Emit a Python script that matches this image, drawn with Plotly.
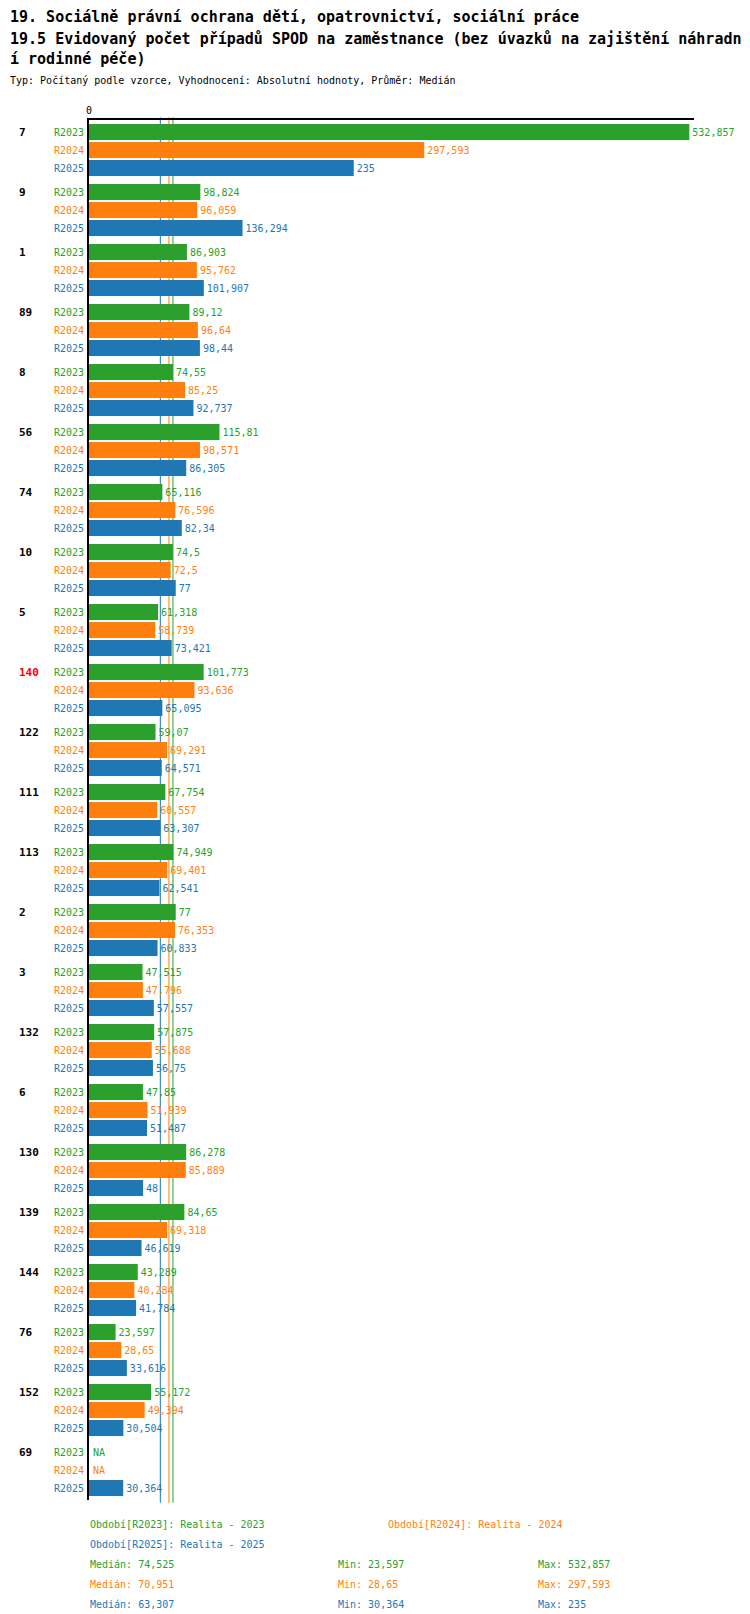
from decimal import Decimal, ROUND_HALF_UP
import numpy as np
import plotly.graph_objects as go

# data (Czech decimal comma -> dot)
categories = ['7', '9', '1', '89', '8', '56', '74', '10', '5', '140', '122', '111',
              '113', '2', '3', '132', '6', '130', '139', '144', '76', '152', '69']
highlighted = ['140']

r2023 = [532.857, 98.824, 86.903, 89.12, 74.55, 115.81, 65.116, 74.5, 61.318, 101.773, 59.07, 67.754,
         74.949, 77, 47.515, 57.875, 47.85, 86.278, 84.65, 43.289, 23.597, 55.172, None]
r2024 = [297.593, 96.059, 95.762, 96.64, 85.25, 98.571, 76.596, 72.5, 58.739, 93.636, 69.291, 60.557,
         69.401, 76.353, 47.796, 55.688, 51.939, 85.889, 69.318, 40.284, 28.65, 49.394, None]
r2025 = [235, 136.294, 101.907, 98.44, 92.737, 86.305, 82.34, 77, 73.421, 65.095, 64.571, 63.307,
         62.541, 60.833, 57.557, 56.75, 51.487, 48, 46.619, 41.784, 33.616, 30.504, 30.364]

series_names = ['R2023', 'R2024', 'R2025']
series_desc = ['Realita - 2023', 'Realita - 2024', 'Realita - 2025']
series_values = [r2023, r2024, r2025]

title_lines = ['19. Sociálně právní ochrana dětí, opatrovnictví, sociální práce',
               '19.5 Evidovaný počet případů SPOD na zaměstnance (bez úvazků na zajištění náhradn',
               'í rodinné péče)']
subtitle = 'Typ: Počítaný podle vzorce, Vyhodnocení: Absolutní hodnoty, Průměr: Medián'

colors = ['#2ca02c', '#ff7f0e', '#1f77b4']
FONT = 'DejaVu Sans Mono'


def fmt(v):
    d = Decimal(f'{v:.9f}').quantize(Decimal('0.001'), rounding=ROUND_HALF_UP)
    s = format(d.normalize(), 'f')
    return s.replace('.', ',')


fig = go.Figure()

annotations = []
shapes = []
row_shift = [18, 0, -18]

for name, vals, color, shift in zip(series_names, series_values, colors, row_shift):
    fig.add_trace(go.Bar(
        y=categories, x=vals, orientation='h', name=name,
        marker=dict(color=color, line=dict(width=0)),
        text=[fmt(v) if v is not None else '' for v in vals],
        textposition='outside', cliponaxis=False, constraintext='none',
        textfont=dict(family=FONT, size=10, color=color),
    ))
    # on a category axis annotations are placed by category index
    for idx, v in enumerate(vals):
        annotations.append(dict(x=0, xref='x', y=idx, yref='y', yshift=shift, xshift=-3,
                                xanchor='right', yanchor='middle', showarrow=False, text=name,
                                font=dict(family=FONT, size=10, color=color)))
        if v is None:
            annotations.append(dict(x=0, xref='x', y=idx, yref='y', yshift=shift, xshift=2,
                                    xanchor='left', yanchor='middle', showarrow=False, text='NA',
                                    font=dict(family=FONT, size=10, color=color)))

# category labels on the first row of each group
for idx, cat in enumerate(categories):
    annotations.append(dict(x=0, xref='paper', xshift=-72, y=idx, yref='y', yshift=18,
                            xanchor='left', yanchor='middle', showarrow=False, text='<b>%s</b>' % cat,
                            font=dict(family=FONT, size=11,
                                      color='#ff0000' if cat in highlighted else '#000000')))

# median lines + stats
stat_rows = []
for name, desc, vals, color in zip(series_names, series_desc, series_values, colors):
    arr = np.array([v for v in vals if v is not None], dtype=float)
    med = float(np.median(arr))
    shapes.append(dict(type='line', xref='x', yref='paper', x0=med, x1=med, y0=-0.002, y1=1.002,
                       line=dict(color=color, width=1), layer='below'))
    stat_rows.append((color, 'Medián: ' + fmt(med), 'Min: ' + fmt(arr.min()), 'Max: ' + fmt(arr.max())))

legend_items = [(0, -24, 0), (0.4925, -24, 1), (0, -44, 2)]
for x, ys, i in legend_items:
    annotations.append(dict(x=x, xref='paper', xshift=-1, y=0, yref='paper', yshift=ys,
                            xanchor='left', yanchor='middle', showarrow=False,
                            text='Období[%s]: %s' % (series_names[i], series_desc[i]),
                            font=dict(family=FONT, size=10, color=colors[i])))

for k, (color, med_t, min_t, max_t) in enumerate(stat_rows):
    for x, t in zip([0, 0.41, 0.74], [med_t, min_t, max_t]):
        annotations.append(dict(x=x, xref='paper', xshift=-1, y=0, yref='paper', yshift=-64 - 20 * k,
                                xanchor='left', yanchor='middle', showarrow=False, text=t,
                                font=dict(family=FONT, size=10, color=color)))

# title block, left aligned to the page edge
for line, ys in zip(title_lines, [103, 81, 61]):
    annotations.append(dict(x=0, xref='paper', xshift=-81, y=1, yref='paper', yshift=ys,
                            xanchor='left', yanchor='middle', showarrow=False, text='<b>%s</b>' % line,
                            font=dict(family=FONT, size=15, color='#000000')))
annotations.append(dict(x=0, xref='paper', xshift=-81, y=1, yref='paper', yshift=40,
                        xanchor='left', yanchor='middle', showarrow=False, text=subtitle,
                        font=dict(family=FONT, size=10, color='#000000')))

fig.update_layout(
    width=750, height=1614,
    margin=dict(l=81, r=64, t=112, b=122),
    paper_bgcolor='white', plot_bgcolor='white',
    barmode='group', bargap=0.1, bargroupgap=0.11,
    showlegend=False,
    font=dict(family=FONT, size=10, color='#000000'),
    xaxis=dict(range=[0, 537], side='top', tickvals=[0], ticktext=['0'], showgrid=False,
               zeroline=False, showline=True, linecolor='#000000', linewidth=1.5,
               ticks='', tickfont=dict(family=FONT, size=10, color='#000000'), fixedrange=True),
    yaxis=dict(type='category', categoryorder='array', categoryarray=categories,
               range=[len(categories) - 0.5, -0.5], showticklabels=False, ticks='', showgrid=False,
               zeroline=False, showline=True, linecolor='#000000', linewidth=2),
    annotations=annotations,
    shapes=shapes,
)

fig.write_html('out.html')
